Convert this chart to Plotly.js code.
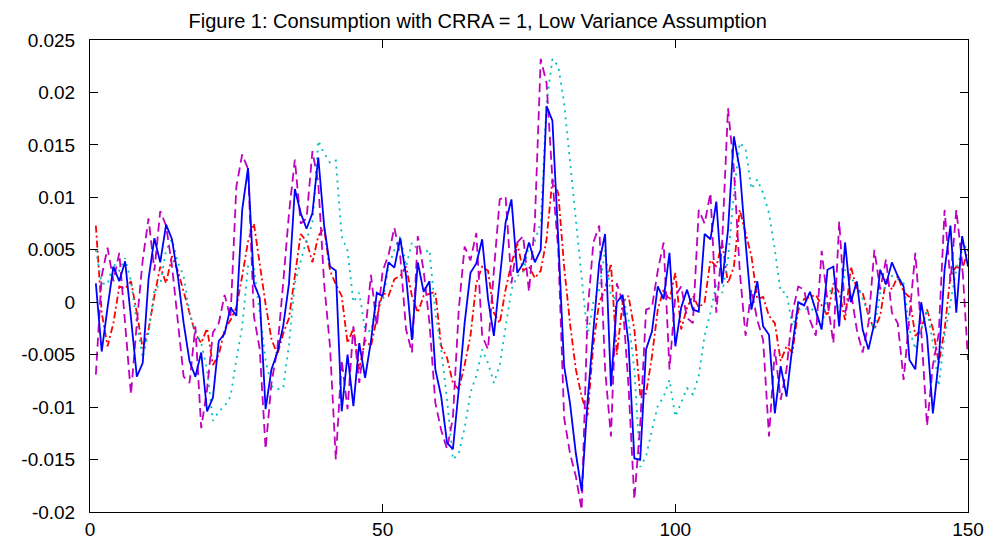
<!DOCTYPE html>
<html>
<head>
<meta charset="utf-8">
<script src="https://cdn.plot.ly/plotly-3.0.1.min.js"></script>
<style>html,body{margin:0;padding:0;background:#fff;}#chart{width:987px;height:540px;}</style>
</head>
<body>
<div id="chart"></div>
<script>
const blue = [0.0018,-0.0047,-0.0005,0.0034,0.0020,0.0039,-0.0015,-0.0071,-0.0058,0.0022,
0.0061,0.0038,0.0074,0.0060,0.0025,-0.0020,-0.0056,-0.0071,-0.0048,-0.0104,
-0.0091,-0.0037,-0.0030,-0.0005,-0.0013,0.0088,0.0128,0.0018,0.0004,-0.0102,
-0.0064,-0.0048,-0.0023,0.0018,0.0108,0.0085,0.0070,0.0085,0.0138,0.0073,
0.0034,0.0030,-0.0104,-0.0050,-0.0099,-0.0039,-0.0072,-0.0037,0.0009,0.0006,
0.0038,0.0033,0.0061,0.0025,-0.0036,0.0038,0.0010,0.0020,-0.0064,-0.0090,
-0.0134,-0.0140,-0.0083,-0.0020,0.0028,0.0037,0.0060,0.0003,-0.0032,0.0022,
0.0076,0.0098,0.0028,0.0037,0.0057,0.0038,0.0050,0.0187,0.0173,0.0060,
-0.0061,-0.0096,-0.0144,-0.0180,-0.0095,-0.0027,0.0038,0.0065,-0.0080,0.0000,
0.0007,-0.0039,-0.0149,-0.0150,-0.0045,-0.0028,0.0015,0.0003,0.0047,-0.0042,
-0.0005,0.0012,-0.0007,-0.0009,0.0065,0.0060,0.0096,0.0018,0.0069,0.0158,
0.0127,0.0057,-0.0007,0.0020,-0.0023,-0.0031,-0.0106,-0.0061,-0.0090,-0.0042,
0.0000,-0.0003,0.0010,-0.0008,-0.0026,0.0031,0.0034,-0.0023,0.0057,0.0000,
0.0020,-0.0026,-0.0045,-0.0020,0.0031,0.0017,0.0038,0.0025,0.0015,-0.0055,
-0.0064,0.0000,-0.0032,-0.0106,-0.0056,0.0031,0.0073,-0.0010,0.0063,0.0034];

const red = [0.0073,-0.0010,-0.0042,-0.0020,0.0015,0.0013,0.0020,-0.0010,-0.0044,-0.0026,
0.0006,0.0034,0.0018,0.0044,0.0030,0.0009,-0.0010,-0.0030,-0.0039,-0.0025,
-0.0060,-0.0050,-0.0026,-0.0017,-0.0005,0.0025,0.0058,0.0075,0.0035,-0.0002,
-0.0035,-0.0050,-0.0030,-0.0015,0.0025,0.0065,0.0058,0.0038,0.0063,0.0071,
0.0030,0.0017,0.0006,-0.0039,-0.0025,-0.0064,-0.0036,-0.0042,-0.0015,0.0009,
0.0006,0.0022,0.0025,0.0034,0.0006,-0.0010,0.0006,0.0008,0.0010,-0.0042,
-0.0053,-0.0077,-0.0083,-0.0060,-0.0032,0.0018,0.0034,0.0030,-0.0010,-0.0020,
0.0012,0.0037,0.0056,0.0030,0.0034,0.0023,0.0030,0.0060,0.0117,0.0104,
0.0034,-0.0020,-0.0064,-0.0090,-0.0108,-0.0040,0.0000,0.0012,0.0037,-0.0050,
0.0000,0.0006,-0.0026,-0.0088,-0.0087,-0.0052,-0.0007,0.0012,0.0002,0.0028,
-0.0026,-0.0005,0.0006,-0.0005,0.0000,0.0040,0.0034,0.0057,0.0018,0.0034,
0.0088,0.0066,0.0044,0.0003,0.0005,-0.0013,-0.0020,-0.0056,-0.0042,-0.0048,
-0.0007,0.0003,0.0005,0.0007,-0.0003,-0.0013,0.0018,0.0009,-0.0017,0.0034,
0.0012,0.0009,-0.0013,-0.0026,-0.0013,0.0022,0.0012,0.0025,0.0010,0.0005,
-0.0032,-0.0026,-0.0007,-0.0025,-0.0058,-0.0026,0.0025,0.0034,0.0031,0.0050];

const cyan = [0.0050,0.0018,0.0017,0.0037,0.0030,0.0042,0.0020,-0.0020,-0.0053,-0.0029,
0.0012,0.0017,0.0050,0.0060,0.0038,0.0025,-0.0010,-0.0029,-0.0039,-0.0064,
-0.0113,-0.0104,-0.0099,-0.0090,-0.0055,-0.0023,0.0034,0.0032,-0.0010,-0.0055,
-0.0080,-0.0083,-0.0082,-0.0040,0.0018,0.0038,0.0060,0.0075,0.0154,0.0142,
0.0133,0.0135,0.0063,0.0049,0.0000,0.0009,-0.0026,-0.0028,0.0000,0.0000,
0.0034,0.0050,0.0063,0.0034,0.0057,0.0050,0.0047,0.0050,-0.0010,-0.0045,
-0.0093,-0.0150,-0.0144,-0.0120,-0.0086,-0.0070,-0.0045,-0.0058,-0.0077,-0.0060,
-0.0023,0.0012,0.0025,0.0028,0.0055,0.0058,0.0076,0.0190,0.0232,0.0225,
0.0190,0.0133,0.0076,0.0018,-0.0032,0.0000,0.0012,0.0050,0.0006,0.0003,
0.0006,-0.0017,-0.0064,-0.0157,-0.0147,-0.0122,-0.0099,-0.0090,-0.0074,-0.0109,
-0.0096,-0.0082,-0.0088,-0.0070,-0.0032,-0.0010,0.0018,0.0009,0.0041,0.0104,
0.0152,0.0146,0.0108,0.0117,0.0104,0.0085,0.0050,0.0010,0.0009,-0.0023,
-0.0007,-0.0007,-0.0005,-0.0010,-0.0026,0.0009,0.0012,-0.0010,0.0031,0.0022,
0.0018,0.0003,-0.0010,-0.0026,0.0009,0.0015,0.0025,0.0022,0.0018,-0.0026,
-0.0045,-0.0026,-0.0007,-0.0039,-0.0080,-0.0032,0.0000,0.0031,0.0050,0.0055];

const magenta = [-0.0069,0.0025,0.0052,0.0020,0.0047,-0.0017,-0.0088,-0.0020,0.0040,0.0080,
0.0030,0.0087,0.0073,0.0035,-0.0020,-0.0071,-0.0077,-0.0023,-0.0120,-0.0083,
-0.0029,-0.0020,0.0007,-0.0015,0.0110,0.0141,0.0127,-0.0013,-0.0045,-0.0140,
-0.0077,-0.0045,0.0018,0.0085,0.0136,0.0075,0.0080,0.0144,0.0114,0.0018,
-0.0042,-0.0150,-0.0055,-0.0102,-0.0023,-0.0077,-0.0030,0.0026,-0.0023,0.0030,
0.0045,0.0071,0.0044,-0.0026,-0.0048,0.0063,0.0030,-0.0020,-0.0096,-0.0122,
-0.0140,-0.0110,-0.0007,0.0053,0.0040,0.0066,-0.0032,-0.0045,0.0030,0.0098,
0.0101,0.0018,0.0057,0.0063,0.0010,0.0076,0.0232,0.0209,0.0117,0.0050,
-0.0110,-0.0144,-0.0166,-0.0198,-0.0010,0.0057,0.0073,-0.0064,-0.0128,0.0018,
0.0000,-0.0080,-0.0188,-0.0117,-0.0007,-0.0005,0.0030,0.0057,-0.0064,0.0006,
0.0015,-0.0015,-0.0020,0.0088,0.0075,0.0104,-0.0010,0.0057,0.0185,0.0127,
0.0030,-0.0032,0.0012,-0.0017,-0.0036,-0.0128,-0.0045,-0.0093,-0.0064,-0.0010,
0.0015,0.0012,-0.0017,-0.0032,0.0049,0.0000,-0.0039,0.0077,-0.0010,0.0010,
-0.0026,-0.0048,-0.0020,0.0050,0.0012,0.0041,-0.0010,-0.0020,-0.0074,-0.0015,
0.0047,-0.0026,-0.0118,-0.0060,-0.0030,0.0088,0.0020,0.0088,0.0038,-0.0055];

const yTickVals = [-0.02,-0.015,-0.01,-0.005,0,0.005,0.01,0.015,0.02,0.025];
const yTickText = ["-0.02","-0.015","-0.01","-0.005","0","0.005","0.01","0.015","0.02","0.025"];
const xTickVals = [0,50,100,150];
const xTickText = ["0","50","100","150"];
const titleText = "Figure 1: Consumption with CRRA = 1, Low Variance Assumption";

const xs = blue.map((_, i) => i + 1);

const traces = [
  {x: xs, y: red, mode: 'lines', line: {color: '#ff0000', width: 1.8, dash: '7px,3px,2px,3px'}},
  {x: xs, y: cyan, mode: 'lines', line: {color: '#00bfbf', width: 1.8, dash: '2px,5px'}},
  {x: xs, y: magenta, mode: 'lines', line: {color: '#bf00bf', width: 1.8, dash: '9px,5px'}},
  {x: xs, y: blue, mode: 'lines', line: {color: '#0000ff', width: 1.8}}
];

const axisCommon = {
  showgrid: false, zeroline: false, showline: true, linecolor: '#000', linewidth: 1,
  mirror: 'ticks', ticks: 'inside', ticklen: 8, tickcolor: '#000', tickwidth: 1,
  tickfont: {family: 'Liberation Sans, Arial, sans-serif', size: 19, color: '#000'}
};

const layout = {
  width: 987, height: 540,
  margin: {l: 90, r: 19, t: 40, b: 28},
  paper_bgcolor: '#fff', plot_bgcolor: '#fff',
  showlegend: false,
  title: {text: titleText, x: 0.484, xanchor: 'center', y: 0.962, yanchor: 'middle',
          font: {family: 'Liberation Sans, Arial, sans-serif', size: 20, color: '#000'}},
  xaxis: Object.assign({}, axisCommon, {range: [0, 150], tickvals: xTickVals, ticktext: xTickText, ticklabelstandoff: 0}),
  yaxis: Object.assign({}, axisCommon, {range: [-0.02, 0.025], tickvals: yTickVals, ticktext: yTickText, ticklabelstandoff: 10})
};

Plotly.newPlot('chart', traces, layout, {displayModeBar: false, staticPlot: true});
</script>
</body>
</html>
